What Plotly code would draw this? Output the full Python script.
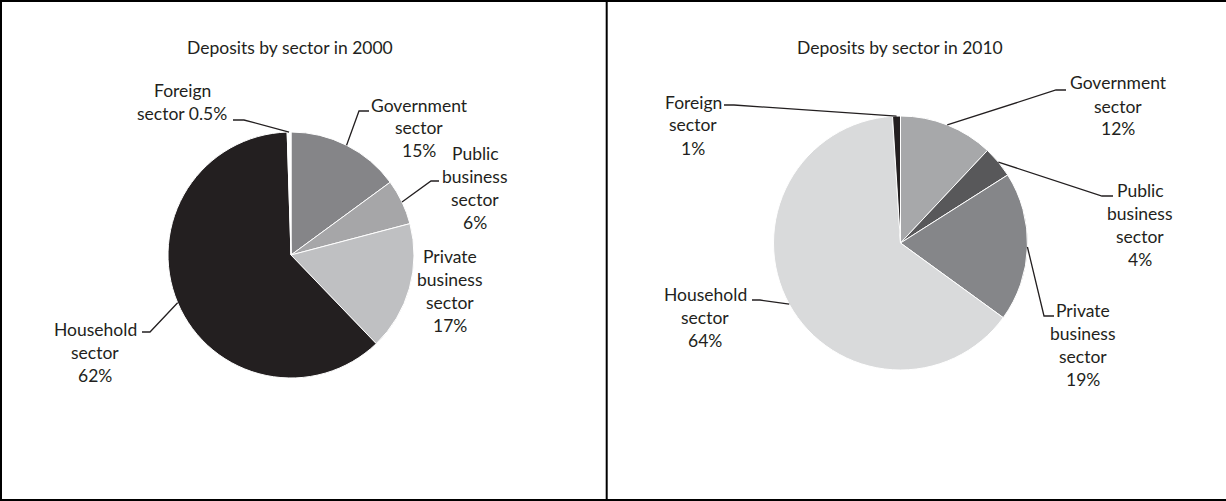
import math
import plotly.graph_objects as go

# ---- data -------------------------------------------------------------
sectors = ["Government sector", "Public business sector", "Private business sector",
           "Household sector", "Foreign sector"]
shares_2000 = [15, 6, 17, 62, 0.5]
shares_2010 = [12, 4, 19, 64, 1]
colors_2000 = ["#858588", "#a6a6a8", "#bfc0c2", "#231f20", "#ffffff"]
colors_2010 = ["#a7a8aa", "#58585a", "#858689", "#d9dadb", "#231f20"]
titles = ["Deposits by sector in 2000", "Deposits by sector in 2010"]

# label wording (value appended from the data)
label_lines_2000 = [["Government", "sector"], ["Public", "business", "sector"],
                    ["Private", "business", "sector"], ["Household", "sector"],
                    ["Foreign", "sector"]]
label_lines_2010 = [["Government", "sector"], ["Public", "business", "sector"],
                    ["Private", "business", "sector"], ["Household", "sector"],
                    ["Foreign", "sector"]]
# the 2000 foreign label keeps its value on the same line as "sector"
inline_value_2000 = [False, False, False, False, True]
inline_value_2010 = [False, False, False, False, False]

# ---- layout constants (pixels) ---------------------------------------
W, H = 1226, 501
FONT = "Lato"
TEXT_COLOR = "#231f20"
LINE_STEP = 23
LABEL_SIZE = 17.5
TITLE_SIZE = 17.5

pies = [
    dict(cx=291, cy=255, r=123, title_x=290, title_y=47,
         # label block centre (x, y)
         labels=[(419, 128), (475, 188), (450, 291), (95, 352), (182, 102)],
         # leader: text-side end point and elbow, or None
         leaders=[((369, 111), (359, 111)), ((439, 181), (431, 181)), None,
                  ((142, 332), (150, 332)), ((233, 120), (244, 120))]),
    dict(cx=900.5, cy=243, r=127, title_x=900, title_y=47,
         labels=[(1118, 106), (1140, 225), (1083, 345), (705, 317), (693, 125)],
         leaders=[((1066, 90), (1056, 90)), ((1113, 196), (1102, 196)),
                  ((1054, 316), (1044, 316)), ((752, 300), (760, 300)),
                  ((724, 105), (734, 105))]),
]


def px(x):
    return x / W


def py(y):
    return 1 - y / H


def fmt(v):
    return f"{v:g}%"


fig = go.Figure()
annotations = []
shapes = []

datasets = [
    (shares_2000, colors_2000, label_lines_2000, inline_value_2000),
    (shares_2010, colors_2010, label_lines_2010, inline_value_2010),
]

for (vals, cols, lines, inline), geo, title in zip(datasets, pies, titles):
    cx, cy, r = geo["cx"], geo["cy"], geo["r"]
    fig.add_trace(go.Pie(
        labels=sectors, values=vals, sort=False, direction="clockwise",
        rotation=0, textinfo="none", hoverinfo="label+percent",
        marker=dict(colors=cols, line=dict(color="#ffffff", width=1)),
        domain=dict(x=[px(cx - r), px(cx + r)], y=[py(cy + r), py(cy - r)]),
        showlegend=False,
    ))

    annotations.append(dict(
        text=title, x=px(geo["title_x"]), y=py(geo["title_y"]),
        xref="paper", yref="paper", showarrow=False,
        xanchor="center", yanchor="middle",
        font=dict(family=FONT, size=TITLE_SIZE, color=TEXT_COLOR)))

    total = sum(vals)
    start = 0.0
    for i, v in enumerate(vals):
        span = v / total * 360.0
        mid = math.radians(start + span / 2)
        start += span

        # label text, one annotation per line
        txt = list(lines[i])
        if inline[i]:
            txt[-1] = txt[-1] + " " + fmt(v)
        else:
            txt.append(fmt(v))
        lx, ly = geo["labels"][i]
        n = len(txt)
        for k, t in enumerate(txt):
            yk = ly + (k - (n - 1) / 2) * LINE_STEP
            annotations.append(dict(
                text=t, x=px(lx), y=py(yk), xref="paper", yref="paper",
                showarrow=False, xanchor="center", yanchor="middle",
                font=dict(family=FONT, size=LABEL_SIZE, color=TEXT_COLOR)))

        # leader line: text end -> elbow -> slice edge at mid angle
        ld = geo["leaders"][i]
        if ld is not None:
            (x0, y0), (x1, y1) = ld
            ax = cx + r * math.sin(mid)
            ay = cy - r * math.cos(mid)
            path = (f"M {px(x0)},{py(y0)} L {px(x1)},{py(y1)} "
                    f"L {px(ax)},{py(ay)}")
            shapes.append(dict(type="path", path=path, xref="paper", yref="paper",
                               line=dict(color=TEXT_COLOR, width=1.3)))

# panel frame
frame = "#000000"
shapes += [
    dict(type="line", xref="paper", yref="paper", x0=0, x1=1, y0=py(1), y1=py(1),
         line=dict(color=frame, width=2)),
    dict(type="line", xref="paper", yref="paper", x0=px(1), x1=px(1), y0=0, y1=1,
         line=dict(color=frame, width=2)),
    dict(type="line", xref="paper", yref="paper", x0=0, x1=1,
         y0=py(500), y1=py(500), line=dict(color=frame, width=2)),
    dict(type="line", xref="paper", yref="paper", x0=px(606.7), x1=px(606.7),
         y0=0, y1=1, line=dict(color=frame, width=2)),
]

fig.update_layout(
    width=W, height=H, margin=dict(l=0, r=0, t=0, b=0),
    paper_bgcolor="#ffffff", plot_bgcolor="#ffffff",
    annotations=annotations, shapes=shapes,
    font=dict(family=FONT, color=TEXT_COLOR),
)

fig.write_html("out.html")
